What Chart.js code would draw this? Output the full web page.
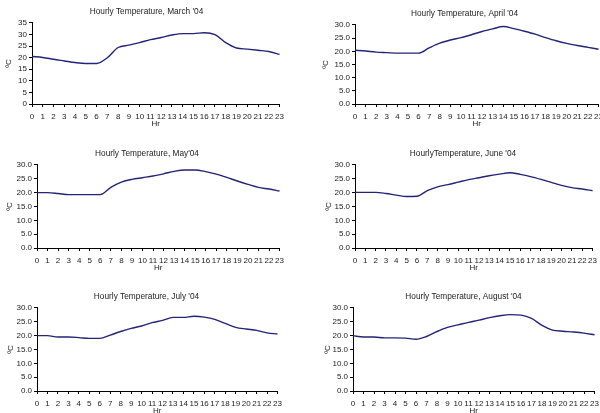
<!DOCTYPE html>
<html>
<head>
<meta charset="utf-8">
<script src="https://cdn.jsdelivr.net/npm/chart.js@4"></script>
<style>
  body { margin: 0; background: #fff; width: 600px; height: 413px; overflow: hidden; position: relative; }
  .panel { position: absolute; }
  #p1 { left: 4px;   top: 5px;   width: 285px; height: 124px; }
  #p2 { left: 321px; top: 7px;   width: 287px; height: 122px; }
  #p3 { left: 5px;   top: 147px; width: 284px; height: 126px; }
  #p4 { left: 324px; top: 147px; width: 278px; height: 126px; }
  #p5 { left: 6px;   top: 290px; width: 281px; height: 126px; }
  #p6 { left: 323px; top: 290px; width: 281px; height: 126px; }
</style>
</head>
<body>
<div class="panel" id="p1"><canvas id="c1"></canvas></div>
<div class="panel" id="p2"><canvas id="c2"></canvas></div>
<div class="panel" id="p3"><canvas id="c3"></canvas></div>
<div class="panel" id="p4"><canvas id="c4"></canvas></div>
<div class="panel" id="p5"><canvas id="c5"></canvas></div>
<div class="panel" id="p6"><canvas id="c6"></canvas></div>
<script>
const hours = ["0","1","2","3","4","5","6","7","8","9","10","11","12","13","14","15","16","17","18","19","20","21","22","23"];

const march  = [20.5, 20.1, 19.3, 18.6, 17.9, 17.5, 17.5, 20.0, 24.4, 25.4, 26.5, 27.8, 28.7, 29.8, 30.4, 30.4, 30.8, 30.0, 26.5, 24.2, 23.7, 23.2, 22.7, 21.4];
const april  = [20.4, 20.1, 19.7, 19.5, 19.3, 19.3, 19.3, 21.3, 23.1, 24.3, 25.2, 26.3, 27.5, 28.5, 29.4, 28.6, 27.6, 26.5, 25.2, 24.0, 23.0, 22.2, 21.5, 20.8];
const may    = [20.0, 20.0, 19.7, 19.3, 19.3, 19.3, 19.3, 21.9, 23.8, 24.8, 25.4, 26.0, 26.8, 27.7, 28.2, 28.2, 27.6, 26.7, 25.5, 24.2, 23.0, 21.9, 21.3, 20.6];
const june   = [20.1, 20.1, 20.1, 19.7, 19.1, 18.6, 18.7, 20.7, 22.1, 22.9, 23.8, 24.7, 25.4, 26.1, 26.7, 27.2, 26.6, 25.8, 24.8, 23.7, 22.6, 21.8, 21.3, 20.7];
const july   = [20.0, 20.0, 19.5, 19.5, 19.3, 19.0, 19.0, 20.2, 21.5, 22.6, 23.5, 24.7, 25.5, 26.6, 26.6, 27.0, 26.7, 25.9, 24.4, 23.0, 22.4, 21.9, 21.0, 20.6];
const august = [20.0, 19.5, 19.5, 19.2, 19.2, 19.1, 18.7, 19.7, 21.5, 23.0, 23.9, 24.8, 25.6, 26.5, 27.2, 27.6, 27.4, 26.2, 23.7, 22.0, 21.6, 21.3, 20.9, 20.3];

const titles = [
  "Hourly Temperature, March '04",
  "Hourly Temperature, April '04",
  "Hourly Temperature, May'04",
  "HourlyTemperature, June '04",
  "Hourly Temperature, July '04",
  "Hourly Temperature, August '04",
];
const yMax = [35, 30, 30, 30, 30, 30];
const yDecimals = [0, 1, 1, 1, 1, 1];
const series = [march, april, may, june, july, august];

// width of the y axis block per panel (puts the °C label where it sits in each panel)
const yAxisWidth = [28, 34, 32, 31, 31, 30];

Chart.defaults.font.family = "'Liberation Sans', Arial, sans-serif";
Chart.defaults.font.size = 8;
Chart.defaults.color = "#222";

function makeChart(i) {
  const ctx = document.getElementById("c" + (i + 1));
  new Chart(ctx, {
    type: "line",
    data: {
      labels: hours,
      datasets: [
        {
          data: series[i],
          borderColor: "#23237a",
          borderWidth: 1.4,
          pointRadius: 0,
          cubicInterpolationMode: "monotone",
          fill: false,
        },
      ],
    },
    options: {
      responsive: true,
      maintainAspectRatio: false,
      animation: false,
      layout: { padding: 0 },
      plugins: {
        legend: { display: false },
        tooltip: { enabled: false },
        title: {
          display: true,
          text: titles[i],
          color: "#222",
          font: { size: 8.3, weight: "normal" },
          padding: { top: 2, bottom: 6 },
        },
      },
      scales: {
        x: {
          grid: { drawOnChartArea: false, drawTicks: true, tickLength: 3, color: "#000" },
          border: { color: "#000", width: 1 },
          ticks: { autoSkip: false, maxRotation: 0, padding: 5, color: "#222" },
          title: { display: true, text: "Hr", padding: 0, color: "#222", font: { size: 8 } },
          afterFit: (scale) => { scale.height = 25; },
        },
        y: {
          min: 0,
          max: yMax[i],
          grid: { drawOnChartArea: false, drawTicks: true, tickLength: 3, color: "#000" },
          border: { color: "#000", width: 1 },
          ticks: {
            stepSize: 5,
            autoSkip: false,
            padding: 2,
            color: "#222",
            callback: (v) => Number(v).toFixed(yDecimals[i]),
          },
          title: { display: true, text: "ºC", padding: 0, color: "#222", font: { size: 8 } },
          afterFit: (scale) => { scale.width = yAxisWidth[i]; },
        },
      },
    },
  });
}

for (let i = 0; i < series.length; i++) makeChart(i);
</script>
</body>
</html>
